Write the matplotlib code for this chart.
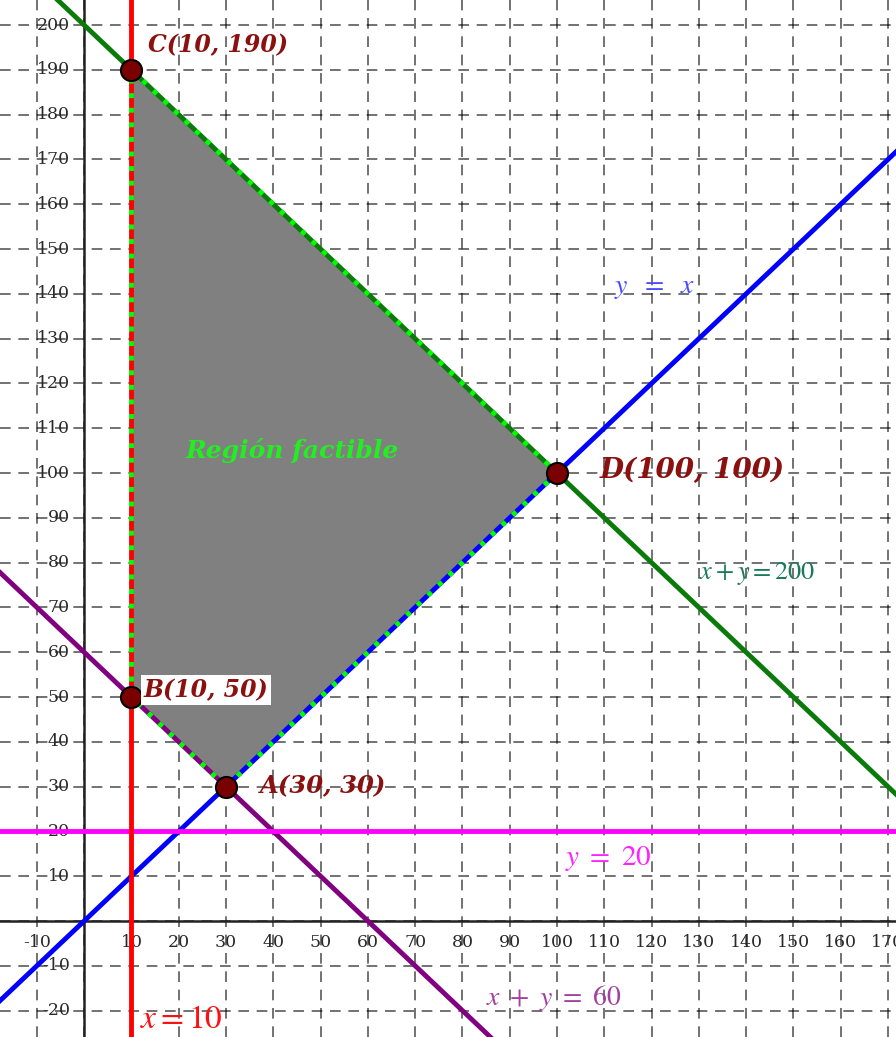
import matplotlib.pyplot as plt
import numpy as np

# vertices of the feasible region
vert_names = ["A", "B", "C", "D"]
vert_x = [30, 10, 10, 100]
vert_y = [30, 50, 190, 100]

x_ticks = [-10, 10, 20, 30, 40, 50, 60, 70, 80, 90, 100, 110, 120, 130, 140, 150, 160, 170]
y_ticks = [-20, -10, 10, 20, 30, 40, 50, 60, 70, 80, 90, 100, 110, 120, 130, 140, 150, 160, 170, 180, 190, 200]

xmin, xmax = -17.8, 171.7
ymin, ymax = -25.9, 205.6

fig = plt.figure(figsize=(8.96, 10.37), dpi=100)
ax = fig.add_axes([0, 0, 1, 1])
ax.set_xlim(xmin, xmax)
ax.set_ylim(ymin, ymax)
ax.axis("off")

serif = ["DejaVu Serif"]

# grid
for gx in range(-10, 180, 10):
    ax.axvline(gx, color="black", lw=1.1, ls=(0, (7, 5)), alpha=0.7, zorder=1)
for gy in range(-20, 210, 10):
    ax.axhline(gy, color="black", lw=1.1, ls=(0, (7, 5)), alpha=0.7, zorder=1)

# axes
ax.axhline(0, color="#222222", lw=1.8, zorder=2)
ax.axvline(0, color="#222222", lw=1.8, zorder=2)

for t in x_ticks:
    ax.text(t, -4.8, str(t), ha="center", va="center", fontsize=12.5,
            family=serif, color="#2a2a2a", zorder=3)
for t in y_ticks:
    ax.text(-3, t, str(t), ha="right", va="center", fontsize=12.5,
            family=serif, color="#2a2a2a", zorder=3)

# feasible region
ax.fill(vert_x, vert_y, color="#808080", zorder=2)

xs = np.array([xmin, xmax])
ax.plot(xs, xs, color="#0000ff", lw=3.5, zorder=4)
ax.plot(xs, 200 - xs, color="#0a7a0a", lw=3.5, zorder=4)
ax.plot(xs, 60 - xs, color="#800080", lw=3.5, zorder=4)
ax.axhline(20, color="#ff00ff", lw=3.5, zorder=4)
ax.axvline(10, color="#ff0000", lw=3.5, zorder=4)

# dotted border of the region
bx = vert_x + [vert_x[0]]
by = vert_y + [vert_y[0]]
ax.plot(bx, by, color="#00ff00", lw=3.5, ls=(0, (1, 2)), zorder=5)

ax.scatter(vert_x, vert_y, s=230, color="#7a0000", edgecolor="black",
           linewidth=1.5, zorder=6)

lab = dict(family=serif, color="#8b1010", style="italic",
           weight="bold", va="center", zorder=7)
ax.text(13.5, 195.5, "C(10, 190)", fontsize=17, **lab)
ax.text(12.6, 51.5, "B(10, 50)", fontsize=17,
        bbox=dict(facecolor="white", edgecolor="none", pad=2), **lab)
ax.text(37.2, 30, "A(30, 30)", fontsize=17.5, **lab)
ax.text(109, 100.5, "D(100, 100)", fontsize=20, **lab)

ax.text(21.5, 105, "Región factible", fontsize=18, family=serif, color="#22ee22",
        style="italic", weight="bold", va="center", zorder=7)

ax.text(112, 141.5, "$y\\ \\ =\\ \\ x$", fontsize=20, color="#4a4aff", va="center", zorder=7,
        math_fontfamily="stix")
ax.text(130, 77.5, "$x + y = 200$", fontsize=19, color="#1a7a5a", va="center", zorder=7,
        math_fontfamily="stix")
ax.text(85, -17.3, "$x\\ +\\ y\\ =\\ 60$", fontsize=20, color="#a040a0", va="center", zorder=7,
        math_fontfamily="stix")
ax.text(101.7, 14, "$y\\ =\\ 20$", fontsize=21, color="#ff22ff", va="center", zorder=7,
        math_fontfamily="stix")
ax.text(11.8, -21.8, "$x = 10$", fontsize=24, color="#ff1010", va="center", zorder=7,
        math_fontfamily="stix")

plt.savefig("out.png", dpi=100)
